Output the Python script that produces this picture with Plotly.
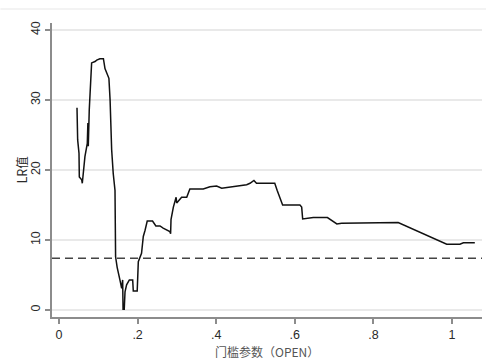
import plotly.graph_objects as go

# Threshold parameter (OPEN) and likelihood-ratio statistic
open_vals = [0.0458, 0.0475, 0.0509, 0.0517, 0.0578, 0.0593, 0.066, 0.072, 0.0735, 0.0745,
             0.077, 0.081, 0.083, 0.0916, 0.096, 0.104, 0.113, 0.117, 0.123, 0.127,
             0.130, 0.1315, 0.1325, 0.134, 0.138, 0.1425, 0.144, 0.148, 0.155, 0.1595,
             0.162, 0.163, 0.166, 0.168, 0.172, 0.179, 0.1875, 0.189, 0.199, 0.2018,
             0.210, 0.2145, 0.219, 0.2245, 0.238, 0.2465, 0.257, 0.265, 0.282, 0.284,
             0.285, 0.291, 0.298, 0.2995, 0.312, 0.325, 0.333, 0.367, 0.384, 0.401,
             0.414, 0.4435, 0.4775, 0.486, 0.496, 0.5025, 0.541, 0.549, 0.555, 0.569,
             0.613, 0.6175, 0.620, 0.630, 0.647, 0.683, 0.707, 0.719, 0.791, 0.863,
             0.9865, 1.020, 1.029, 1.058]
lr_vals = [28.9, 24.3, 22.4, 19.0, 18.6, 18.1, 21.9, 23.8, 26.7, 23.4,
           28.6, 34.5, 35.3, 35.5, 35.7, 35.9, 35.9, 34.5, 33.8, 33.1,
           30.0, 26.7, 27.3, 22.9, 19.5, 17.1, 7.6, 6.1, 4.3, 3.1,
           4.3, 0.1, 0.1, 2.6, 3.6, 4.3, 4.3, 2.7, 2.7, 6.9,
           8.1, 10.5, 11.4, 12.7, 12.7, 12.0, 12.0, 11.7, 11.2, 10.9,
           12.9, 14.7, 16.1, 15.3, 16.1, 16.1, 17.3, 17.3, 17.6, 17.7,
           17.4, 17.6, 17.9, 18.1, 18.5, 18.1, 18.1, 18.1, 17.1, 15.0,
           15.0, 14.7, 13.0, 13.1, 13.2, 13.2, 12.3, 12.4, 12.5, 12.5,
           9.4, 9.4, 9.6, 9.6]

critical_value = 7.4

x_ticks = [0, 0.2, 0.4, 0.6, 0.8, 1.0]
x_tick_text = ["0", ".2", ".4", ".6", ".8", "1"]
y_ticks = [0, 10, 20, 30, 40]
y_tick_text = ["0", "10", "20", "30", "40"]

x_range = [-0.0178, 1.0763]
y_range = [-1.0, 41.0]

x_title = "门槛参数（OPEN）"
y_title = "LR值"

fig = go.Figure()

fig.add_trace(go.Scatter(
    x=open_vals, y=lr_vals, mode="lines",
    line=dict(color="#111111", width=1.5),
    showlegend=False, hoverinfo="skip",
))

fig.add_trace(go.Scatter(
    x=x_range, y=[critical_value, critical_value], mode="lines",
    line=dict(color="#444444", width=1.5, dash="8px,5px"),
    showlegend=False, hoverinfo="skip",
))

axis_font = dict(family="Liberation Sans, Arial, sans-serif", size=12.5, color="#2a2a2a")
title_font = dict(family="Noto Sans CJK SC, sans-serif", size=12, color="#555555")

fig.update_layout(
    width=486, height=361,
    margin=dict(l=52, r=4, t=23, b=44),
    paper_bgcolor="white", plot_bgcolor="white",
    font=axis_font,
    xaxis=dict(
        range=x_range, tickvals=x_ticks, ticktext=x_tick_text,
        showgrid=False, zeroline=False,
        showline=True, linecolor="#8c8c8c", linewidth=1.5,
        ticks="outside", ticklen=5, tickcolor="#8c8c8c", tickwidth=1.5,
        tickfont=axis_font, ticklabelstandoff=0,
    ),
    yaxis=dict(
        range=y_range, tickvals=y_ticks, ticktext=y_tick_text,
        showgrid=True, gridcolor="#e9e9e9", gridwidth=1.5,
        zeroline=False,
        showline=True, linecolor="#8c8c8c", linewidth=1.5,
        ticks="outside", ticklen=5, tickcolor="#8c8c8c", tickwidth=1.5,
        tickangle=-90, tickfont=axis_font,
    ),
)

# axis titles placed close to the tick labels
fig.add_annotation(text=x_title, xref="paper", yref="paper",
                   x=0.5, y=-0.118, xanchor="center", yanchor="middle",
                   showarrow=False, font=title_font)
fig.add_annotation(text=y_title, xref="paper", yref="paper",
                   x=-0.071, y=0.5, xanchor="center", yanchor="middle",
                   textangle=-90, showarrow=False,
                   font=dict(family="Noto Sans CJK SC, sans-serif", size=12.5, color="#2a2a2a"))

# faint frame line across the top of the graph region
fig.add_shape(type="line", xref="paper", yref="paper",
              x0=-0.12, x1=1.01, y0=1.048, y1=1.048,
              line=dict(color="#efefef", width=1.5))

fig.write_html("out.html")
